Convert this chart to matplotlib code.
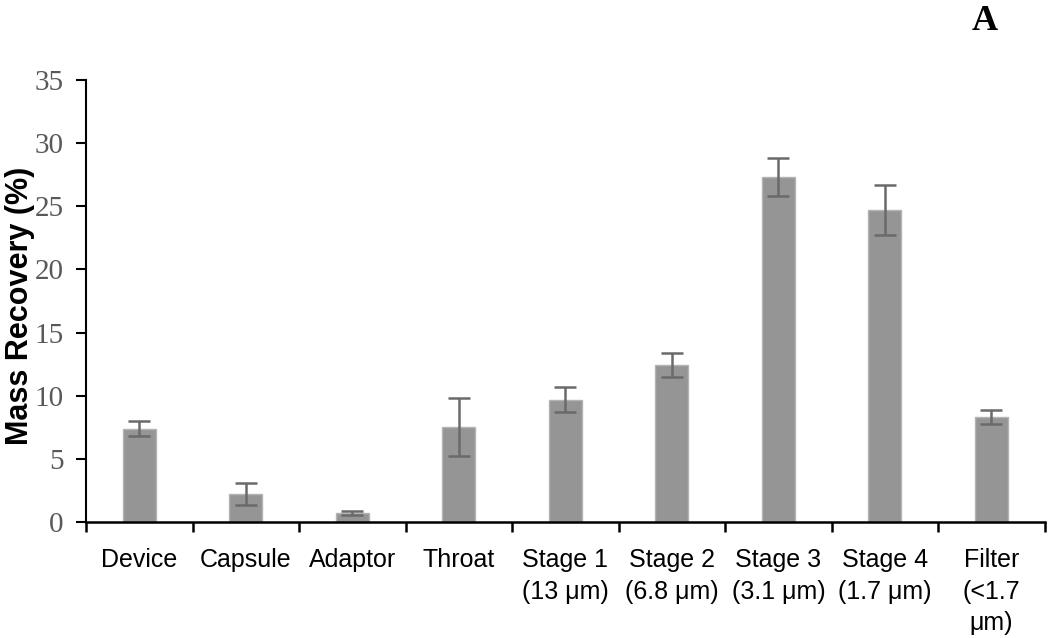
import numpy as np
import matplotlib.pyplot as plt

# data
categories = ['Device', 'Capsule', 'Adaptor', 'Throat', 'Stage 1\n(13 μm)',
              'Stage 2\n(6.8 μm)', 'Stage 3\n(3.1 μm)', 'Stage 4\n(1.7 μm)',
              'Filter\n(<1.7\nμm)']
recovery = [7.4, 2.2, 0.7, 7.55, 9.7, 12.4, 27.3, 24.7, 8.3]
errors = [0.57, 0.85, 0.18, 2.3, 1.0, 0.95, 1.5, 2.0, 0.57]
y_ticks = [0, 5, 10, 15, 20, 25, 30, 35]

fig = plt.figure(figsize=(10.5, 6.38), dpi=100)
ax = fig.add_axes([0.0819, 0.1818, 0.9131, 0.6928])

x = np.arange(len(categories))
ax.bar(x, recovery, width=0.31, color='#959595', edgecolor='#b4b4b4', linewidth=1,
       yerr=errors, error_kw=dict(ecolor='#6a6a6a', elinewidth=1.8, capsize=8, capthick=1.8))

ax.set_xlim(-0.5, len(categories) - 0.5)
ax.set_ylim(0, 35)

# boundary ticks on x, labels at centres
ax.set_xticks(np.arange(len(categories) + 1) - 0.5)
ax.set_xticklabels([])
ax.set_xticks(x, minor=True)
ax.set_xticklabels(categories, minor=True, fontsize=18, family='Liberation Sans',
                   linespacing=1.38)
ax.tick_params(axis='x', which='minor', length=0, pad=19)
ax.tick_params(axis='x', which='major', length=7, width=1.8, direction='out')

ax.set_yticks(y_ticks)
ax.set_yticklabels([str(t) for t in y_ticks], family='Liberation Serif', fontsize=21,
                   color='#595959')
ax.tick_params(axis='y', length=7, width=1.5, direction='out', pad=9)

for s in ['top', 'right']:
    ax.spines[s].set_visible(False)
ax.spines['left'].set_linewidth(1.5)
ax.spines['bottom'].set_linewidth(1.8)

ax.set_ylabel('Mass Recovery (%)', fontsize=22, fontweight='bold',
              family='Liberation Sans')
ax.yaxis.set_label_coords(-0.053, 0.49)

fig.text(0.938, 0.966, 'A', fontsize=26, fontweight='bold', family='Liberation Serif',
         ha='center', va='center')

fig.savefig('out.png', dpi=100)
